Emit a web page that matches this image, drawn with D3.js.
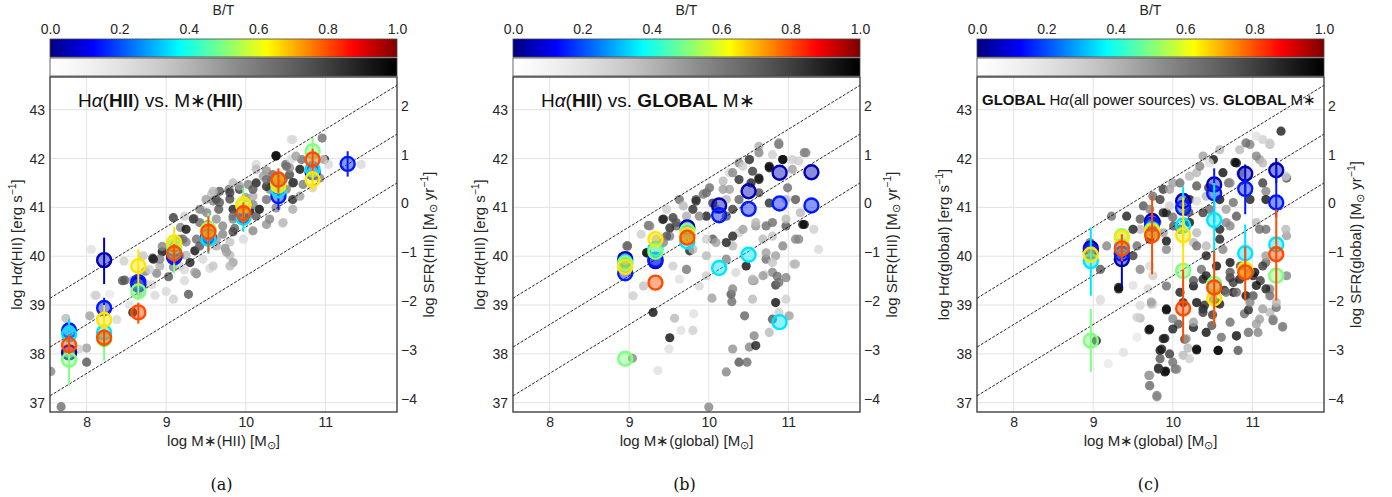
<!DOCTYPE html>
<html lang="en">
<head>
<meta charset="UTF-8" />
<title>H-alpha vs stellar mass by B/T</title>
<script src="https://cdn.jsdelivr.net/npm/d3@7"></script>
<style>
  body { margin: 0; background: #fff; }
  svg { font-family: "Liberation Sans", Arial, sans-serif; }
</style>
</head>
<body>
<svg width="1392" height="497"></svg>
<script>
// ---- data ----
const btTicks = [0, 0.2, 0.4, 0.6, 0.8, 1.0];
const massTicks = [8, 9, 10, 11];
const haTicks = [37, 38, 39, 40, 41, 42, 43];
const sfrTicks = [-4, -3, -2, -1, 0, 1, 2];
const sfrOffset = 41.08;          // log SFR = log L(Ha) - offset
const lineOffsets = [31.6, 30.6, 29.6]; // dashed lines: log Ha = log M + offset
const xDomain = [7.54, 11.9];
const yDomain = [36.81, 43.67];

// individual regions [log M, log Ha, B/T]
const greyA = [
  [8.06,40.14,.1],[8.1,39.2,.1],[8.45,39.5,.7],[8.47,39.9,.2],[8.83,39.96,.8],[8.95,40.09,.95],[8.95,40.2,.5],
  [9.09,40.21,.5],[9.18,40.59,.5],[9.23,40.82,.2],[9.35,40.77,.6],[9.36,40.11,.95],[9.38,40.35,.6],[9.46,40.94,.2],
  [9.57,41.27,.25],[9.59,41.13,.5],[9.66,40.96,.7],[9.63,40.76,.45],[9.79,41.37,.55],[9.8,41.17,.75],[9.84,40.76,.5],
  [9.8,40.29,.25],[9.8,40.02,.3],[9.74,40.16,.45],[9.86,40.57,.65],[10.05,40.93,.95],[10.09,41.06,.5],[10.13,40.82,.7],
  [10.17,40.96,.2],[10.26,41.16,.6],[10.26,40.65,.45],[10.3,41.37,.5],[10.32,41.54,.7],[10.46,40.67,.15],[10.13,41.88,.15],
  [10.26,41.75,.45],[10.38,42.06,.95],[10.5,41.88,.6],[10.55,41.67,.75],[10.6,41.51,.8],[10.51,41.37,.5],[10.57,41.98,.15],
  [10.68,41.78,.95],[10.7,41.98,.6],[10.57,42.39,.1],[10.96,42.42,.6],[10.99,41.98,.95],[11.04,41.88,.15],[11.45,41.88,.15],
  [9.52,40.65,.5],[9.59,40.35,.2],[9.71,40.45,.5],[9.84,40.5,.75],[9.92,40.89,.8],[10.0,40.87,.95],[10.0,41.2,.45],
  [9.25,40.29,.5],[9.25,40.02,.3],[9.23,39.72,.15],[9.09,39.78,.5],[9.03,39.58,.7],[9.0,39.28,.15],[8.88,39.65,.5],
  [8.82,39.42,.15],[8.74,39.69,.5],
  [8.12,39.2,.2],[8.29,39.22,.05],[8.04,38.78,.4],[8.0,38.12,.4],[7.9,38.1,.2],[8.0,37.83,.7],[7.74,38.73,.3],
  [7.55,37.64,.5],[7.68,36.92,.6],[8.38,38.7,.15],[8.48,39.51,.7],[8.54,39.0,.1],[8.58,38.85,.9],[8.75,39.43,.15],
  [8.86,39.2,.15],[9.09,39.12,.2],[9.28,39.22,.7],[9.23,39.5,.15],[9.38,39.64,.5],[9.55,39.75,.15],
  [9.09,40.79,.8],[9.42,40.96,.5],[9.5,41.16,.4],[9.67,41.33,.7],[9.84,41.5,.3],[9.92,41.37,.8],[10.03,41.47,.5],
  [10.13,41.5,.9],[10.22,41.64,.4],[10.34,41.67,.6],[10.47,41.3,.3],[10.59,41.16,.85],[10.68,41.23,.4],[10.72,41.47,.55],
  [10.84,41.4,.2],[10.93,41.6,.5],[10.59,40.96,.35],[10.38,40.99,.5],[10.09,40.52,.5],[9.97,40.35,.15],[9.63,40.21,.35],
  [9.46,39.94,.15],[9.59,39.8,.25],[9.84,39.87,.4],[8.92,39.8,.35],[9.17,39.8,.2],[9.36,39.67,.4],[8.71,40.01,.25],
  [8.58,39.5,.4],[8.67,39.26,.3],[9.84,40.96,.9],[9.63,41.16,.75],[9.42,40.69,.6],[9.25,40.55,.95],[9.17,40.35,.5],
  [10.26,41.43,.85],[10.09,41.23,.35],[10.38,41.37,.9],[10.55,41.81,.45],[10.47,41.57,.7],
  [9.21,40.35,.6],[9.34,40.76,.8],[9.51,40.89,.5],[9.59,41.33,.3],[9.67,41.1,.7],[9.8,41.3,.8],[9.84,40.82,.6],
  [9.92,41.44,.4],[10.09,41.37,.7],[10.17,40.96,.95],[10.13,41.78,.3],[10.26,41.57,.6],[10.38,42.05,.95],[10.51,41.84,.6],
  [10.59,41.5,.8],[10.63,42.05,.4],[10.3,40.76,.5],[10.47,40.69,.3],[9.71,40.62,.5],[9.63,40.35,.4],[9.42,40.21,.7],
  [9.3,39.87,.9],[9.17,40.01,.5],[9.05,40.14,.8],[8.92,39.94,.5],[8.84,39.94,.9],[8.79,39.73,.2],[9.76,40.08,.4],
  [9.8,39.8,.3],[10.97,41.98,.2],[10.59,42.39,.15]
];
const greyB = [
  [8.98,40.21,.7],[9.22,40.07,.9],[9.24,40.63,.6],[9.15,40.45,.2],[9.42,40.75,.7],[9.55,40.79,.8],[9.59,40.62,.6],
  [9.51,40.41,.5],[9.76,40.11,.9],[9.72,39.73,.3],[9.84,41.16,.7],[9.93,41.27,.55],[10.01,41.4,.6],[10.18,41.54,.3],
  [10.26,41.37,.4],[10.38,41.91,.5],[10.51,41.98,.9],[10.55,41.74,.8],[10.63,41.6,.95],[10.53,41.5,.9],[10.76,41.81,.95],
  [10.88,42.29,.6],[10.93,41.98,.95],[11.2,42.12,.55],[11.13,41.95,.2],[11.05,41.78,.4],[10.99,41.4,.6],[10.97,41.16,.3],
  [11.09,41.16,.7],[11.15,40.89,.3],[11.2,40.65,.95],[11.32,40.55,.2],[11.38,40.14,.15],[11.09,40.35,.5],[11.07,39.84,.3],
  [10.84,40.01,.4],[10.8,39.67,.5],[10.72,39.94,.6],[10.55,39.5,.4],[10.47,39.8,.95],[10.34,39.67,.15],[10.3,40.21,.3],
  [10.22,40.28,.9],[10.05,40.35,.7],[9.97,40.01,.3],[9.97,39.6,.2],[9.88,39.39,.15],[9.63,39.53,.1],[9.55,39.8,.2],
  [9.18,39.39,.2],[9.05,39.19,.2],[9.3,38.85,.95],
  [9.63,41.16,.6],[9.8,40.96,.85],[9.97,40.82,.9],[10.09,40.96,.5],[10.22,41.16,.3],[10.3,40.96,.8],[10.38,41.16,.65],
  [10.63,41.3,.7],[10.76,41.09,.85],[10.8,40.69,.6],[10.59,40.62,.45],[10.38,40.48,.2],[10.97,40.62,.7],[10.26,41.71,.15],
  [10.63,42.25,.35],[10.8,42.08,.2],[9.51,40.58,.85],[9.34,40.35,.3],[9.47,40.96,.2],[9.72,40.82,.35],
  [9.51,38.33,.95],[9.57,38.73,.3],[9.65,38.48,.1],[9.8,38.48,.2],[9.81,38.82,.1],[9.5,38.1,.1],[9.36,37.66,.1],
  [10.0,36.91,.5],[10.04,39.14,.4],[10.22,37.63,.5],[10.3,38.1,.45],[10.28,39.22,.7],[10.29,39.07,.6],[10.38,37.83,.7],
  [10.48,37.83,.6],[10.51,38.14,.5],[10.57,38.37,.5],[10.59,38.17,.9],[10.45,38.78,.65],[10.55,39.12,.3],[10.57,39.5,.4],
  [10.76,38.44,.3],[10.8,38.71,.7],[10.84,39.05,.95],[10.84,39.41,.8],[10.86,39.59,.6],[10.97,39.56,.5],[10.97,39.12,.2],
  [11.01,38.78,.4],[10.88,38.85,.2],[10.7,39.62,.2],[9.04,37.91,.5],
  [8.97,40.21,.6],[9.22,40.07,.9],[9.43,40.76,.9],[9.26,40.62,.5],[9.47,40.41,.7],[9.59,40.69,.7],[9.68,41.03,.3],
  [9.84,41.13,.85],[9.97,41.3,.6],[10.05,41.09,.8],[9.88,40.82,.5],[10.18,41.37,.4],[10.3,41.71,.5],[10.38,41.57,.85],
  [10.51,41.98,.7],[10.63,41.57,.9],[10.76,41.84,.95],[10.88,42.32,.5],[10.93,41.98,.95],[11.05,41.98,.2],[11.22,42.12,.5],
  [10.63,42.12,.5],[10.43,41.84,.2],[10.22,40.82,.7],[10.3,40.41,.9],[10.43,40.55,.4],[10.59,40.69,.3],[10.72,40.62,.6],
  [10.8,40.41,.25],[10.97,40.76,.3],[11.13,40.35,.5],[11.18,40.65,.95],[9.8,40.14,.3],[9.97,40.35,.2],[10.09,40.28,.4],
  [10.22,39.94,.5],[10.68,40.35,.3],[10.72,40.07,.4],[10.93,40.21,.5],[10.8,39.87,.25],[10.68,39.6,.4],[10.88,39.46,.6],
  [11.09,39.84,.3],[10.55,39.53,.3],[10.3,39.33,.5],[9.72,39.73,.5],[9.18,39.39,.2],[9.43,40.28,.5]
];
const greyC = [
  [8.96,40.28,.6],[9.09,39.73,.7],[9.23,40.82,.6],[9.42,40.82,.9],[9.32,39.33,.95],[9.17,40.21,.5],[9.5,40.01,.8],
  [9.59,40.55,.3],[9.63,41.03,.7],[9.75,41.23,.6],[9.88,41.37,.8],[9.92,40.89,.9],[10.0,41.5,.4],[9.92,40.31,.95],
  [10.09,40.55,.7],[10.21,41.16,.9],[10.26,40.28,.3],[10.3,41.71,.3],[10.38,42.05,.4],[10.51,41.98,.95],[10.59,42.18,.3],
  [10.78,41.92,.95],[10.97,42.29,.5],[11.13,42.39,.2],[11.22,42.29,.3],[11.36,42.56,.9],[11.09,41.98,.4],[11.43,41.6,.7],
  [11.17,41.33,.5],[10.97,41.16,.9],[10.76,41.1,.6],[10.59,41.16,.95],[10.67,40.69,.5],[11.05,40.69,.3],[11.17,40.55,.6],
  [11.43,40.42,.4],[10.59,40.35,.9],[10.36,39.73,.6],[10.42,40.21,.3],[10.26,39.39,.95],[10.72,39.87,.95],[10.76,39.46,.8],
  [11.01,39.6,.9],[11.17,39.87,.6],[11.22,39.33,.5],[11.43,39.6,.5],[10.92,39.19,.95],[9.92,39.39,.6],[9.75,39.6,.2],
  [9.69,39.33,.15],[9.09,39.12,.1],[9.59,39.73,.5],[10.13,39.05,.9],[10.55,39.05,.7],
  [9.7,38.49,.9],[9.59,38.73,.3],[9.73,39.02,.3],[9.92,38.9,.9],[9.9,38.32,.9],[9.84,38.07,.95],[9.96,38.0,.8],
  [9.82,37.71,.9],[9.91,37.65,.95],[10.03,37.69,.6],[9.7,37.56,.5],[9.71,37.35,.6],[9.8,37.12,.5],[10.07,38.61,.7],
  [10.19,38.12,.3],[10.3,38.08,.95],[10.26,38.54,.9],[10.38,38.92,.9],[10.49,38.58,.7],[10.57,38.07,.95],[10.61,38.34,.6],
  [10.72,38.65,.6],[10.8,38.37,.9],[10.82,38.07,.7],[10.95,38.44,.5],[11.07,38.44,.5],[11.09,38.71,.4],[11.22,38.85,.3],
  [11.38,38.56,.5],[11.26,38.68,.6],[10.59,39.02,.9],[10.76,39.26,.95],[11.01,39.19,.7],[11.17,39.33,.9],[10.9,38.82,.6],
  [11.03,39.67,.95],[10.72,39.56,.8],[10.42,39.6,.9],[10.26,39.5,.7],[9.75,39.02,.2],[9.55,38.34,.05],[9.38,38.03,.1],
  [9.19,37.8,.05],[9.04,38.27,.9],[9.32,39.36,.95],[9.09,39.09,.1],
  [9.8,40.7,.85],[10.0,40.8,.6],[10.2,40.9,.75],[10.45,41.4,.8],[10.7,41.5,.6],[10.85,41.7,.3],[10.4,39.0,.85],
  [10.65,39.3,.9],[10.85,39.8,.7],[11.1,39.5,.8],[10.5,38.8,.8],[10.95,38.9,.85],[11.3,38.95,.6],[10.15,38.3,.8],
  [9.59,40.76,.7],[9.71,40.96,.5],[9.84,41.16,.8],[9.96,41.37,.4],[9.88,40.89,.9],[10.09,41.5,.6],[10.21,41.64,.3],
  [10.3,41.44,.7],[10.34,41.84,.5],[10.42,41.23,.3],[10.46,40.96,.6],[10.63,41.71,.95],[10.72,41.5,.5],[10.8,41.91,.95],
  [10.84,42.18,.3],[10.92,42.32,.6],[11.05,42.05,.5],[11.13,41.91,.3],[11.22,42.32,.2],[11.13,41.5,.8],[11.17,41.16,.95],
  [11.42,41.64,.2],[10.67,40.96,.4],[10.72,40.62,.5],[10.8,40.82,.7],[10.59,40.55,.9],[10.3,40.48,.3],[10.38,40.89,.8],
  [10.21,40.69,.95],[10.01,40.62,.7],[9.88,40.48,.4],[9.71,40.35,.9],[9.55,40.21,.6],[9.5,40.55,.9],[9.92,40.14,.5],
  [10.3,40.21,.6],[10.42,40.01,.9],[10.63,40.14,.5],[11.09,40.55,.6],[11.17,40.01,.4],[11.42,40.55,.3],[9.96,41.03,.2],
  [10.3,41.13,.15],[10.46,41.91,.1],[11.05,42.46,.1],
  [10.38,39.53,.9],[10.55,39.8,.95],[10.72,39.67,.7],[10.8,39.26,.6],[11.05,39.4,.95],[11.13,39.8,.8],[10.97,39.05,.5],
  [11.13,38.92,.4],[11.26,38.71,.5],[11.38,38.55,.5],[10.3,39.05,.95],[10.38,38.85,.8],[10.26,38.65,.4],[9.92,38.92,.95],
  [10.0,38.72,.5],[9.71,38.51,.95],[9.88,38.31,.9],[10.0,38.51,.9],[10.17,38.31,.4],[10.42,38.44,.95],[10.57,38.07,.95],
  [10.8,38.37,.8],[10.95,38.44,.5],[11.05,38.61,.4],[9.86,38.1,.9],[9.84,37.9,.7],[10.0,37.83,.6],[9.9,37.63,.95],
  [9.82,37.69,.8],[10.05,37.69,.5],[10.13,37.97,.3],[10.21,37.9,.2],[10.3,38.1,.95],[9.71,37.56,.4],[9.71,37.35,.5],
  [9.8,37.15,.5],[9.55,38.75,.2],[9.59,38.99,.15],[9.73,39.06,.4],[10.09,39.26,.9],[10.51,39.12,.5],[10.67,39.26,.6],
  [10.84,39.53,.9],[10.97,39.67,.5],[11.22,39.19,.6],[11.3,39.05,.3],[9.5,39.4,.1],[9.71,39.8,.15]
];

// binned medians [log M, log Ha, B/T, err low, err high]
const binsA = [
  [7.78,38.03,.05],[7.78,38.48,.15,38.3,38.7],[7.78,38.4,.35,38.2,38.72],[7.78,37.88,.5,37.35,38.3],[7.78,38.18,.8,38.0,38.4],
  [8.22,39.92,.05,39.43,40.38],[8.22,38.94,.15,38.75,39.15],[8.22,38.44,.35,38.3,38.6],[8.22,38.3,.5,37.86,38.5],[8.22,38.7,.65,38.5,39.0],[8.22,38.33,.8,38.15,38.5],
  [8.65,39.42,.05],[8.65,39.47,.15,39.2,39.7],[8.65,39.28,.5,39.1,39.45],[8.65,39.8,.65,39.4,40.14],[8.65,38.85,.8,38.62,39.05],
  [9.1,40.0,.05],[9.1,39.98,.15],[9.1,40.1,.35],[9.1,40.2,.5,39.65,40.4],[9.1,40.28,.65,40.0,40.6],[9.1,40.06,.8,39.85,40.25],
  [9.53,40.4,.05],[9.53,40.38,.15],[9.53,40.36,.35,40.05,40.6],[9.53,40.55,.5,40.3,40.88],[9.53,40.52,.65],[9.53,40.5,.8,40.08,40.82],
  [9.97,40.82,.15],[9.97,40.79,.35,40.5,41.0],[9.97,41.03,.5,40.8,41.4],[9.97,41.06,.65,40.8,41.25],[9.97,40.88,.8,40.65,41.1],
  [10.41,41.23,.15,40.95,41.45],[10.41,41.35,.35],[10.41,41.5,.5],[10.41,41.45,.65],[10.41,41.57,.8,41.3,41.8],
  [10.84,41.72,.15],[10.84,41.78,.35],[10.84,42.15,.5,41.9,42.42],[10.84,41.57,.65,41.33,41.8],[10.84,41.98,.8,41.75,42.2],
  [11.28,41.89,.15,41.63,42.15]
];
const binsB = [
  [8.95,39.94,.05],[8.95,39.65,.15],[8.95,39.87,.35],[8.95,37.9,.5],[8.95,39.85,.5],[8.95,39.78,.65],
  [9.33,39.9,.05],[9.33,39.93,.15],[9.33,40.15,.35],[9.33,40.09,.5],[9.33,40.35,.65],[9.33,39.46,.8],
  [9.73,40.59,.05],[9.73,40.3,.35],[9.73,40.52,.5],[9.73,40.43,.65],[9.73,40.38,.8],
  [10.13,41.04,.05],[10.13,40.84,.15],[10.13,39.76,.35],
  [10.5,41.33,.05],[10.5,40.97,.15],[10.5,40.03,.35],
  [10.89,41.71,.05],[10.89,41.08,.15],[10.89,38.65,.35],
  [11.29,41.72,.05],[11.29,41.04,.15]
];
const binsC = [
  [8.97,40.16,.05],[8.97,40.1,.15],[8.97,39.9,.35,39.19,40.59],[8.97,38.27,.5,37.63,38.92],[8.97,40.03,.65],
  [9.36,39.94,.05,39.36,40.3],[9.36,40.05,.15],[9.36,40.2,.35],[9.36,40.41,.5],[9.36,40.38,.65],[9.36,40.16,.8,39.9,40.45],
  [9.74,40.72,.05],[9.74,40.65,.15],[9.74,40.55,.35],[9.74,40.52,.65],[9.74,40.43,.8,39.63,41.24],
  [10.13,41.13,.05],[10.13,40.99,.15],[10.13,40.63,.35,40.2,41.43],[10.13,39.7,.5],[10.13,40.43,.65,39.6,41.2],[10.13,38.93,.8,38.24,39.73],
  [10.52,41.47,.05],[10.52,41.29,.15,40.7,41.8],[10.52,40.74,.35,39.9,41.5],[10.52,39.43,.5],[10.52,39.14,.65,38.6,39.5],[10.52,39.36,.8,38.58,40.11],
  [10.91,41.69,.05,41.3,41.88],[10.91,41.38,.15,40.86,41.6],[10.91,40.06,.35,39.5,40.65],[10.91,39.73,.65],[10.91,39.67,.8,39.09,40.2],
  [11.3,41.76,.05,41.5,42.01],[11.3,41.1,.15,40.8,41.8],[11.3,40.24,.35],[11.3,39.6,.5],[11.3,40.04,.8,39.09,40.96]
];

const panels = [
  { x0: 50, grey: greyA, bins: binsA, cap: "(a)", tSize: 19,
    title: [["H"],["α","i"],["("],["HII","b"],[") vs. M∗("],["HII","b"],[")"]],
    xlab: [["log M∗(HII) [M"],["⊙","sub"],["]"]],
    ylab: [["log H"],["α","i"],["(HII) [erg s"],["−1","sup"],["]"]],
    rlab: [["log SFR(HII) [M"],["⊙","sub"],[" yr"],["−1","sup"],["]"]] },
  { x0: 513, grey: greyB, bins: binsB, cap: "(b)", tSize: 19,
    title: [["H"],["α","i"],["("],["HII","b"],[") vs. "],["GLOBAL","b"],[" M∗"]],
    xlab: [["log M∗(global) [M"],["⊙","sub"],["]"]],
    ylab: [["log H"],["α","i"],["(HII) [erg s"],["−1","sup"],["]"]],
    rlab: [["log SFR(HII) [M"],["⊙","sub"],[" yr"],["−1","sup"],["]"]] },
  { x0: 977, grey: greyC, bins: binsC, cap: "(c)", tSize: 15,
    title: [["GLOBAL","b"],[" H"],["α","i"],["(all power sources) vs. "],["GLOBAL","b"],[" M∗"]],
    xlab: [["log M∗(global) [M"],["⊙","sub"],["]"]],
    ylab: [["log H"],["α","i"],["(global) [erg s"],["−1","sup"],["]"]],
    rlab: [["log SFR(global) [M"],["⊙","sub"],[" yr"],["−1","sup"],["]"]] }
];

// ---- layout ----
const W = 347, TOP = 77, BOT = 412, CB0 = 39, CB1 = 57, GB1 = 76;
const svg = d3.select("svg");
const ink = "#262626";

function jet(t) {
  const c = v => Math.max(0, Math.min(1, v));
  return d3.rgb(255 * c(1.5 - Math.abs(4 * t - 3)), 255 * c(1.5 - Math.abs(4 * t - 2)), 255 * c(1.5 - Math.abs(4 * t - 1))).formatHex();
}
const greyOf = bt => d3.interpolateGreys(0.12 + 0.88 * bt);

const defs = svg.append("defs");
const jg = defs.append("linearGradient").attr("id", "jetGrad");
const gg = defs.append("linearGradient").attr("id", "greyGrad");
d3.range(0, 1.0001, 0.025).forEach(t => {
  jg.append("stop").attr("offset", t).attr("stop-color", jet(t));
  gg.append("stop").attr("offset", t).attr("stop-color", d3.interpolateGreys(t));
});

// rich text with italic / bold / sub / sup segments
function rich(sel, segs, size) {
  let shift = 0;
  segs.forEach(([t, s]) => {
    const ts = sel.append("tspan").text(t);
    let target = 0;
    if (s === "i") ts.attr("font-style", "italic");
    if (s === "b") ts.attr("font-weight", "bold");
    if (s === "sup") { target = -size * 0.4; ts.attr("font-size", size * 0.7); }
    if (s === "sub") { target = size * 0.2; ts.attr("font-size", size * 0.7); }
    if (target !== shift) { ts.attr("dy", target - shift); shift = target; }
  });
}

panels.forEach((p, i) => {
  const x0 = p.x0, x1 = x0 + W;
  const x = d3.scaleLinear().domain(xDomain).range([x0, x1]);
  const y = d3.scaleLinear().domain(yDomain).range([BOT, TOP]);
  const yr = d3.scaleLinear().domain(yDomain.map(v => v - sfrOffset)).range([BOT, TOP]);
  const cb = d3.scaleLinear().domain([0, 1]).range([x0, x1]);
  const g = svg.append("g");

  defs.append("clipPath").attr("id", "clip" + i)
    .append("rect").attr("x", x0).attr("y", TOP).attr("width", W).attr("height", BOT - TOP);

  // colour bars
  g.append("rect").attr("x", x0).attr("y", CB0).attr("width", W).attr("height", CB1 - CB0)
    .attr("fill", "url(#jetGrad)").attr("stroke", "#444").attr("stroke-width", 0.8);
  g.append("rect").attr("x", x0).attr("y", CB1 + 1).attr("width", W).attr("height", GB1 - CB1 - 1)
    .attr("fill", "url(#greyGrad)").attr("stroke", "#444").attr("stroke-width", 0.8);
  const cax = g.append("g").attr("transform", `translate(0,${CB0})`)
    .call(d3.axisTop(cb).tickValues(btTicks).tickFormat(d3.format(".1f")).tickSize(0).tickPadding(5));
  cax.select(".domain").remove();
  cax.selectAll("text").attr("font-size", 14).attr("fill", ink).attr("font-family", null);
  g.append("text").attr("x", (x0 + x1) / 2).attr("y", 15).attr("text-anchor", "middle")
    .attr("font-size", 14).attr("fill", ink).text("B/T");

  // grid
  g.append("g").selectAll("line").data(massTicks).join("line")
    .attr("x1", d => x(d)).attr("x2", d => x(d)).attr("y1", TOP).attr("y2", BOT)
    .attr("stroke", "#e3e3e3").attr("stroke-width", 1);
  g.append("g").selectAll("line").data(haTicks).join("line")
    .attr("x1", x0).attr("x2", x1).attr("y1", d => y(d)).attr("y2", d => y(d))
    .attr("stroke", "#e3e3e3").attr("stroke-width", 1);

  const plot = g.append("g").attr("clip-path", `url(#clip${i})`);

  // individual regions
  plot.append("g").selectAll("circle").data(p.grey).join("circle")
    .attr("cx", d => x(d[0])).attr("cy", d => y(d[1])).attr("r", 4.6)
    .attr("fill", d => greyOf(d[2])).attr("fill-opacity", 0.8);

  // constant-sSFR lines
  plot.append("g").selectAll("line").data(lineOffsets).join("line")
    .attr("x1", x(xDomain[0])).attr("x2", x(xDomain[1]))
    .attr("y1", d => y(xDomain[0] + d)).attr("y2", d => y(xDomain[1] + d))
    .attr("stroke", "#111").attr("stroke-width", 0.9).attr("stroke-dasharray", "3,1.5");

  // binned points with error bars
  const bins = plot.append("g").selectAll("g").data(p.bins).join("g");
  bins.filter(d => d.length > 3).append("line")
    .attr("x1", d => x(d[0])).attr("x2", d => x(d[0]))
    .attr("y1", d => y(d[3])).attr("y2", d => y(d[4]))
    .attr("stroke", d => jet(d[2])).attr("stroke-width", 2);
  bins.append("circle")
    .attr("cx", d => x(d[0])).attr("cy", d => y(d[1])).attr("r", 7)
    .attr("fill", d => jet(d[2])).attr("fill-opacity", 0.45)
    .attr("stroke", d => jet(d[2])).attr("stroke-width", 2.4);

  // frame
  g.append("rect").attr("x", x0).attr("y", TOP).attr("width", W).attr("height", BOT - TOP)
    .attr("fill", "none").attr("stroke", "#333").attr("stroke-width", 1.3);

  // axes
  const styleAx = a => { a.select(".domain").remove(); a.selectAll("text").attr("font-size", 14).attr("fill", ink).attr("font-family", null); };
  const fmt = d3.format("d");
  g.append("g").attr("transform", `translate(0,${BOT})`)
    .call(d3.axisBottom(x).tickValues(massTicks).tickFormat(fmt).tickSize(0).tickPadding(5)).call(styleAx);
  g.append("g").attr("transform", `translate(${x0},0)`)
    .call(d3.axisLeft(y).tickValues(haTicks).tickFormat(fmt).tickSize(0).tickPadding(5)).call(styleAx);
  g.append("g").attr("transform", `translate(${x1},0)`)
    .call(d3.axisRight(yr).tickValues(sfrTicks).tickFormat(fmt).tickSize(0).tickPadding(4)).call(styleAx);

  // labels
  rich(g.append("text").attr("x", (x0 + x1) / 2).attr("y", 446).attr("text-anchor", "middle")
    .attr("font-size", 15).attr("fill", ink), p.xlab, 15);
  rich(g.append("text").attr("transform", `translate(${x0 - 28},${(TOP + BOT) / 2}) rotate(-90)`)
    .attr("text-anchor", "middle").attr("font-size", 15).attr("fill", ink), p.ylab, 15);
  rich(g.append("text").attr("transform", `translate(${x1 + 37},${(TOP + BOT) / 2}) rotate(-90)`)
    .attr("text-anchor", "middle").attr("font-size", 15).attr("fill", ink), p.rlab, 15);
  rich(g.append("text").attr("x", i === 2 ? x0 + 5 : x0 + 28).attr("y", i === 2 ? 105 : 107)
    .attr("font-size", p.tSize).attr("fill", "#111"), p.title, p.tSize);

  g.append("text").attr("x", (x0 + x1) / 2 - 2).attr("y", 490).attr("text-anchor", "middle")
    .attr("font-family", "'DejaVu Serif', 'Liberation Serif', serif").attr("font-size", 16).attr("fill", "#111")
    .text(p.cap);
});
</script>
</body>
</html>
